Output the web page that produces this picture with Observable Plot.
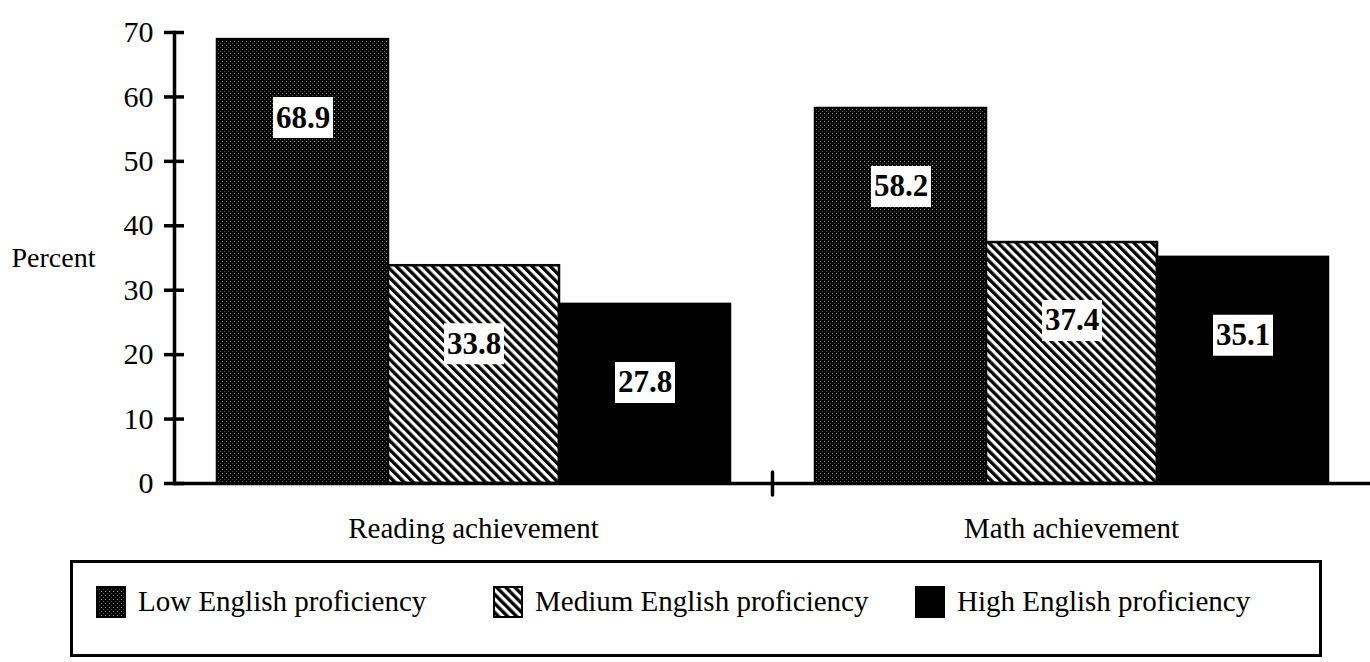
<!DOCTYPE html>
<html>
<head>
<meta charset="utf-8">
<script src="https://cdn.jsdelivr.net/npm/d3@7"></script>
<script src="https://cdn.jsdelivr.net/npm/@observablehq/plot@0.6"></script>
<style>
  html, body { margin: 0; padding: 0; background: #fff; }
  body { width: 1370px; height: 662px; position: relative; overflow: hidden; font-family: "Liberation Serif", "Times New Roman", serif; color: #000; }
  #chart { position: absolute; left: 0; top: 0; }
  #legend { position: absolute; left: 70px; top: 560px; width: 1252px; height: 97px; box-sizing: border-box; border: 3px solid #000; }
  .item { position: absolute; top: 22px; display: flex; align-items: center; font-size: 29px; white-space: nowrap; }
  .item svg { margin-right: 12px; }
</style>
</head>
<body>
<svg width="0" height="0" style="position:absolute">
  <defs>
    <pattern id="pLow" width="4" height="4" patternUnits="userSpaceOnUse">
      <rect width="4" height="4" fill="#000"/>
      <rect x="1" y="1" width="1" height="1" fill="#fff" opacity="0.6"/>
      <rect x="3" y="3" width="1" height="1" fill="#fff" opacity="0.35"/>
    </pattern>
    <pattern id="pMed" width="6.4" height="10" patternUnits="userSpaceOnUse" patternTransform="rotate(-45)">
      <rect width="6.4" height="10" fill="#fff"/>
      <rect width="3.3" height="10" fill="#000"/>
    </pattern>
  </defs>
</svg>
<div id="chart"></div>
<div id="legend"></div>
<script>
// ---- data ----
const groups = ["Reading achievement", "Math achievement"];
const series = ["Low English proficiency", "Medium English proficiency", "High English proficiency"];
const lowValues = [68.9, 58.2];
const mediumValues = [33.8, 37.4];
const highValues = [27.8, 35.1];
const yTicks = [0, 10, 20, 30, 40, 50, 60, 70];
const yLabel = "Percent";

const valuesBySeries = [lowValues, mediumValues, highValues];
const data = [];
groups.forEach((g, gi) => series.forEach((s, si) => data.push({group: g, series: s, value: valuesBySeries[si][gi]})));

const fills = ["url(#pLow)", "url(#pMed)", "#000"];
const serif = "'Liberation Serif', 'Times New Roman', serif";
const boxSymbol = {draw(ctx) { ctx.rect(-30, -20.5, 60, 41); }};
const lineShape = {draw(ctx, l) { ctx.moveTo(0, 0); ctx.lineTo(0, -l); }};

const chart = Plot.plot({
  width: 1370,
  height: 550,
  marginLeft: 173,
  marginRight: 0,
  marginTop: 32,
  marginBottom: 67,
  style: {fontFamily: serif, fontSize: "29px", background: "#fff", color: "#000"},
  fx: {domain: groups, padding: 0},
  x: {domain: series, paddingInner: 0, paddingOuter: 0.24, axis: null},
  y: {domain: [0, 70]},
  color: {domain: series, range: fills},
  marks: [
    Plot.barY(data, {fx: "group", x: "series", y: "value", fill: "series", stroke: "#000", strokeWidth: 2.5}),
    Plot.dot(data, {fx: "group", x: "series", y: "value", dy: 78, symbol: boxSymbol, fill: "#fff", stroke: null}),
    Plot.text(data, {fx: "group", x: "series", y: "value", dy: 78, text: d => d.value.toFixed(1), fontWeight: "bold", fontSize: 31, fill: "#000"}),
    Plot.ruleY([0], {strokeWidth: 3.5, stroke: "#000"}),
    Plot.frame({anchor: "left", fx: groups[0], strokeWidth: 3.5, stroke: "#000"}),
    Plot.vector([groups[1]], {fx: d => d, frameAnchor: "bottom-left", length: 23, rotate: 0, anchor: "middle", shape: lineShape, stroke: "#000", strokeWidth: 3.5}),
    Plot.axisY({ticks: yTicks, tickSize: 20, dx: 10, tickPadding: 11, strokeWidth: 3.5, label: null, fontSize: 30, tickFormat: d => String(d)}),
    Plot.axisFx({anchor: "bottom", tickSize: 0, tickPadding: 34, label: null, fontSize: 29}),
    Plot.text([yLabel], {fx: () => groups[0], frameAnchor: "left", dx: -163, textAnchor: "start", fontSize: 28})
  ]
});
document.getElementById("chart").appendChild(chart);

// ---- legend ----
const legend = document.getElementById("legend");
const itemLeft = [23, 420, 842];
series.forEach((s, i) => {
  const item = document.createElement("div");
  item.className = "item";
  item.style.left = itemLeft[i] + "px";
  item.innerHTML = `<svg width="30" height="32"><rect x="1" y="1" width="28" height="30" fill="${fills[i]}" stroke="#000" stroke-width="2"/></svg><span>${s}</span>`;
  legend.appendChild(item);
});
</script>
</body>
</html>
